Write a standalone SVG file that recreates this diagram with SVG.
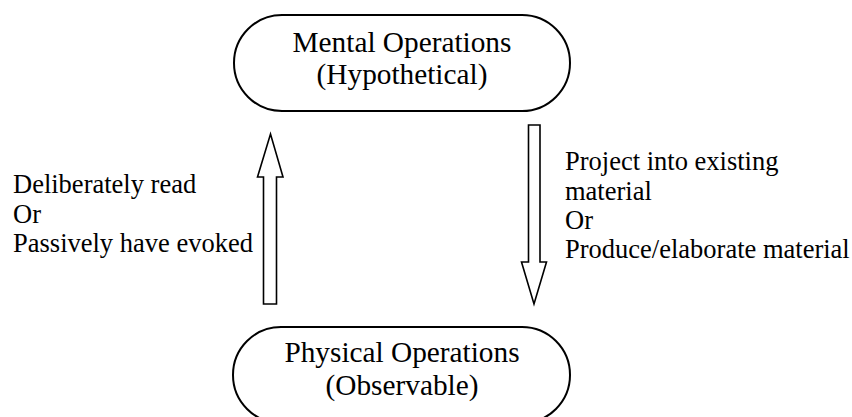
<svg xmlns="http://www.w3.org/2000/svg" width="852" height="417" viewBox="0 0 852 417">
<style>
.pill{fill:#fff;stroke:#000;stroke-width:2}
.arrow{fill:#fff;stroke:#000;stroke-width:1.6;stroke-linejoin:miter}
.node{font-family:"Liberation Serif","Times New Roman",serif;font-size:29.3px;fill:#000;text-anchor:middle}
.lbl{font-family:"Liberation Serif","Times New Roman",serif;font-size:26.5px;fill:#000}
</style>
<rect width="852" height="417" fill="#fff"/>
<g id="mental">
<rect class="pill" x="234" y="15" width="336" height="96" rx="48" ry="48"/>
<text class="node" x="402" y="52">Mental Operations</text>
<text class="node" x="402" y="84">(Hypothetical)</text>
</g>
<g id="physical">
<rect class="pill" x="233" y="327" width="337" height="96" rx="48" ry="48"/>
<text class="node" x="402" y="362">Physical Operations</text>
<text class="node" x="402" y="395">(Observable)</text>
</g>
<g id="connectors">
<polygon class="arrow" points="263.5,304 276.5,304 276.5,177 283,177 270.5,134 257.5,177 263.5,177"/>
<polygon class="arrow" points="528.5,125 540,125 540,262 546.5,262 534,304 521.5,262 528.5,262"/>
</g>
<g id="label-left">
<text class="lbl" x="13" y="193">Deliberately read</text>
<text class="lbl" x="13" y="223">Or</text>
<text class="lbl" x="13" y="252">Passively have evoked</text>
</g>
<g id="label-right">
<text class="lbl" x="565" y="170">Project into existing</text>
<text class="lbl" x="565" y="200">material</text>
<text class="lbl" x="565" y="229">Or</text>
<text class="lbl" x="565" y="258">Produce/elaborate material</text>
</g>
</svg>
